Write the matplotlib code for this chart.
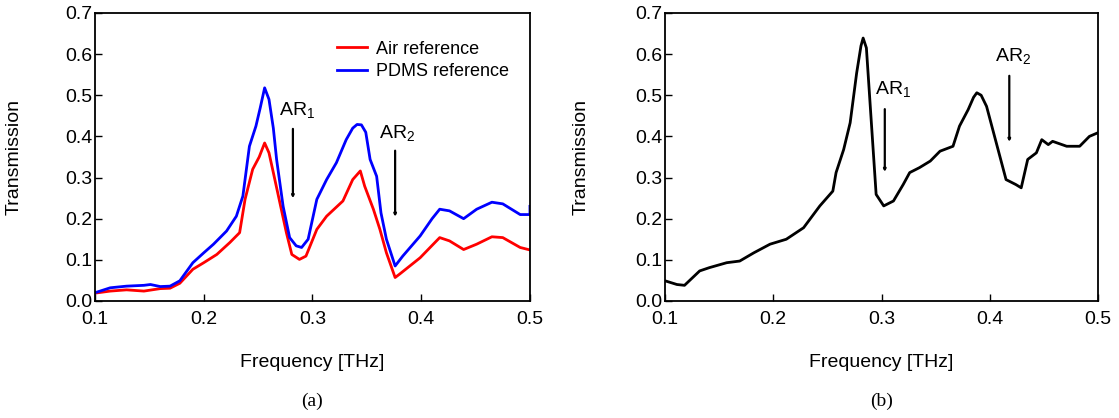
import matplotlib
matplotlib.use('Agg')
import matplotlib.pyplot as plt

plt.rcParams['font.family'] = ['Liberation Sans', 'DejaVu Sans']
plt.rcParams['mathtext.default'] = 'regular'

# (a) air / PDMS reference
freq_pdms = [0.100, 0.114, 0.129, 0.145, 0.151, 0.160, 0.169, 0.178, 0.190, 0.200,
             0.209, 0.221, 0.230, 0.236, 0.242, 0.248, 0.252, 0.256, 0.260, 0.264,
             0.267, 0.273, 0.279, 0.285, 0.290, 0.296, 0.304, 0.313, 0.322, 0.331,
             0.337, 0.341, 0.345, 0.349, 0.353, 0.359, 0.363, 0.368, 0.376, 0.383,
             0.399, 0.410, 0.417, 0.426, 0.439, 0.451, 0.465, 0.475, 0.491, 0.500,
             0.500]
trans_pdms = [0.020, 0.032, 0.036, 0.038, 0.040, 0.035, 0.036, 0.049, 0.093, 0.117,
              0.138, 0.170, 0.206, 0.255, 0.376, 0.425, 0.470, 0.518, 0.490, 0.420,
              0.344, 0.230, 0.154, 0.134, 0.130, 0.150, 0.247, 0.295, 0.336, 0.392,
              0.420, 0.429, 0.428, 0.410, 0.344, 0.303, 0.214, 0.150, 0.085, 0.109,
              0.158, 0.200, 0.223, 0.219, 0.200, 0.223, 0.240, 0.236, 0.210, 0.210,
              0.230]

freq_air = [0.100, 0.114, 0.129, 0.145, 0.160, 0.169, 0.178, 0.190, 0.200, 0.212,
            0.224, 0.233, 0.238, 0.245, 0.251, 0.256, 0.260, 0.264, 0.270, 0.276,
            0.281, 0.288, 0.294, 0.304, 0.313, 0.328, 0.337, 0.344, 0.348, 0.356,
            0.362, 0.368, 0.376, 0.380, 0.399, 0.410, 0.417, 0.426, 0.439, 0.451,
            0.465, 0.475, 0.491, 0.500]
trans_air = [0.019, 0.024, 0.027, 0.024, 0.030, 0.031, 0.043, 0.077, 0.093, 0.113,
             0.142, 0.166, 0.247, 0.320, 0.350, 0.384, 0.360, 0.312, 0.239, 0.166,
             0.113, 0.101, 0.109, 0.174, 0.206, 0.243, 0.295, 0.316, 0.279, 0.223,
             0.174, 0.117, 0.057, 0.065, 0.105, 0.135, 0.154, 0.146, 0.125, 0.138,
             0.156, 0.154, 0.130, 0.124]

# (b)
freq_b = [0.100, 0.111, 0.118, 0.132, 0.141, 0.157, 0.169, 0.182, 0.197, 0.212,
          0.228, 0.243, 0.255, 0.258, 0.265, 0.271, 0.277, 0.281, 0.283, 0.286,
          0.295, 0.302, 0.311, 0.320, 0.326, 0.335, 0.345, 0.354, 0.366, 0.372,
          0.380, 0.385, 0.388, 0.392, 0.397, 0.406, 0.415, 0.424, 0.429, 0.435,
          0.443, 0.448, 0.454, 0.458, 0.471, 0.483, 0.492, 0.500]
trans_b = [0.049, 0.040, 0.038, 0.073, 0.081, 0.093, 0.097, 0.117, 0.138, 0.150,
           0.178, 0.231, 0.267, 0.312, 0.368, 0.433, 0.554, 0.620, 0.639, 0.615,
           0.259, 0.231, 0.243, 0.283, 0.312, 0.324, 0.340, 0.364, 0.376, 0.425,
           0.465, 0.495, 0.506, 0.500, 0.473, 0.384, 0.295, 0.283, 0.275, 0.344,
           0.360, 0.392, 0.380, 0.388, 0.376, 0.376, 0.400, 0.409]

fig = plt.figure(figsize=(11.19, 4.18), dpi=100)
ax1 = fig.add_axes([0.0849, 0.280, 0.3887, 0.689])
ax2 = fig.add_axes([0.5943, 0.280, 0.3870, 0.689])

ax1.plot(freq_air, trans_air, color='#ff0000', lw=2.0, label='Air reference')
ax1.plot(freq_pdms, trans_pdms, color='#0000ff', lw=2.0, label='PDMS reference')
ax1.legend(loc='upper right', frameon=False, fontsize=13, handlelength=1.7,
           handletextpad=0.5, labelspacing=0.3, bbox_to_anchor=(0.99, 0.96))
ax2.plot(freq_b, trans_b, color='black', lw=2.0)

arrow = dict(arrowstyle='-|>', lw=1.6, color='black', mutation_scale=3)
ax1.annotate('', xy=(0.282, 0.243), xytext=(0.282, 0.425), arrowprops=arrow)
ax1.text(0.269, 0.465, 'AR$_1$', fontsize=14, va='center', ha='left')
ax1.annotate('', xy=(0.376, 0.198), xytext=(0.376, 0.372), arrowprops=arrow)
ax1.text(0.361, 0.409, 'AR$_2$', fontsize=14, va='center', ha='left')
ax2.annotate('', xy=(0.303, 0.307), xytext=(0.303, 0.473), arrowprops=arrow)
ax2.text(0.294, 0.514, 'AR$_1$', fontsize=14, va='center', ha='left')
ax2.annotate('', xy=(0.418, 0.380), xytext=(0.418, 0.554), arrowprops=arrow)
ax2.text(0.405, 0.595, 'AR$_2$', fontsize=14, va='center', ha='left')

for ax, cap, ylx in [(ax1, '(a)', -0.167), (ax2, '(b)', -0.173)]:
    ax.set_xlim(0.1, 0.5)
    ax.set_ylim(0, 0.7)
    ax.set_xticks([0.1, 0.2, 0.3, 0.4, 0.5])
    ax.set_yticks([0.0, 0.1, 0.2, 0.3, 0.4, 0.5, 0.6, 0.7])
    ax.set_xticklabels(['0.1', '0.2', '0.3', '0.4', '0.5'])
    ax.set_yticklabels(['0.0', '0.1', '0.2', '0.3', '0.4', '0.5', '0.6', '0.7'])
    ax.tick_params(direction='in', length=5, width=1, labelsize=14,
                   top=False, right=False)
    ax.tick_params(axis='y', pad=2)
    ax.tick_params(axis='x', pad=7)
    for s in ax.spines.values():
        s.set_linewidth(1.3)
    ax.set_xlabel('Frequency [THz]', fontsize=14)
    ax.set_ylabel('Transmission', fontsize=14)
    ax.xaxis.set_label_coords(0.5, -0.185)
    ax.yaxis.set_label_coords(ylx, 0.5)
    ax.text(0.5, -0.350, cap, transform=ax.transAxes, ha='center', va='center',
            fontsize=14, family='Liberation Serif')

fig.savefig('out.png', dpi=100)
plt.close(fig)
